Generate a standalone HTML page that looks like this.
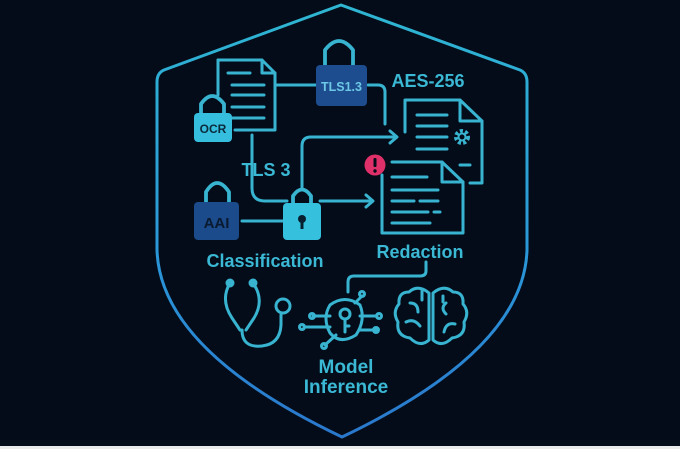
<!DOCTYPE html>
<html><head><style>
html,body{margin:0;padding:0;background:#040c1a;}
svg{display:block}
text{font-family:"Liberation Sans",sans-serif;font-weight:bold;}
</style></head><body>
<svg width="680" height="449" viewBox="0 0 680 449" xmlns="http://www.w3.org/2000/svg">
<defs>
<linearGradient id="sg" x1="0" y1="0" x2="0" y2="1">
<stop offset="0" stop-color="#2fb6d2"/><stop offset="0.6" stop-color="#2a96d8"/><stop offset="1" stop-color="#2a78cc"/>
</linearGradient>
</defs>
<rect width="680" height="446" fill="#040c1a"/>
<rect y="446" width="680" height="3" fill="#e8eaec"/>
<path d="M341 5 L164 70 Q157 73 157 82 L157 250 Q160 350 342 437 Q524 350 527 250 L527 82 Q527 73 520 70 Z" fill="none" stroke="url(#sg)" stroke-width="3" stroke-linejoin="round"/>
<g fill="none" stroke="#38b4d0" stroke-width="3" stroke-linecap="round" stroke-linejoin="round">
<path d="M218 60 L262 60 L275 73 L275 130 L235 130"/><path d="M262 60 L262 73 L275 73"/><path d="M218 60 L218 95"/>
<path d="M228 73h22 M232 85h32 M232 95h32 M232 107h32 M232 118h32"/>
<path d="M275 85 H316"/>
<path d="M368 85 H378 Q385 85 385 92 V124"/>
<path d="M252 135 V188 Q252 201 265 201 H287"/>
<path d="M242 221 H283"/>
<path d="M302 188 V146 Q302 137 311 137 H396"/><path d="M390 131 L397 137 L390 143"/>
<path d="M320 201 H372"/><path d="M366 195 L373 201 L366 207"/>
<path d="M405 132 V100 H460 L482 121 V183 H470"/><path d="M460 100 V121 H482"/>
<path d="M417 115h30 M417 126h30 M417 137h30 M417 149h30 M460 165h10"/>
<path d="M392 162 H442 L463 182 V233 H382 V175"/><path d="M442 162 V182 H463"/>
<path d="M392 177h35 M392 190h46 M392 201h22 M420 201h18 M392 212h36 M434 212h6 M392 223h38"/>
</g>
<g fill="none" stroke="#38b4d0" stroke-width="3.8" stroke-linecap="round" stroke-linejoin="round">
<path d="M325 65 V50 Q339 32 353 50 V65"/>
<path d="M201 113 V104 Q212 88 224 104 V113"/>
<path d="M206 202 V192 Q217 174 229 192 V202"/>
<path d="M293 203 V196 Q302 183 311 196 V203"/>
</g>
<g fill="none" stroke="#38b4d0" stroke-width="3" stroke-linecap="round" stroke-linejoin="round">
<path d="M426 262 V271 Q426 276 420 276 H354 Q348 276 348 282 V292"/>
<circle cx="230" cy="283" r="3" fill="#38b4d0"/><circle cx="253" cy="283" r="3" fill="#38b4d0"/>
<path d="M230 283 Q220 300 232 318 L240 330 M253 283 Q265 300 254 318 L246 330"/>
<path d="M242 330 Q242 348 262 346 Q280 344 281 325 V315"/>
<circle cx="283" cy="306" r="7"/>
<path d="M330 305 Q345 294 360 305 Q366 320 356 335 Q340 345 330 333 Q322 318 330 305Z"/>
<circle cx="345" cy="314" r="5"/><path d="M345 319 V332 M345 326 H349"/>
<path d="M313 316 H330 M304 327 H330 M360 316 H377 M360 330 H377 M355 303 L362 296 M336 335 L325 345"/>
<circle cx="312" cy="316" r="2.5"/><circle cx="302" cy="327" r="2.5"/><circle cx="379" cy="316" r="2.5"/><circle cx="376" cy="330" r="2.5"/><circle cx="362" cy="294" r="2.5"/><circle cx="324" cy="346" r="2.5"/>
<path d="M429 293 Q418 284 409 292 Q398 292 399 304 Q392 312 398 322 Q396 336 410 338 Q420 348 429 340 Z"/>
<path d="M433 293 Q444 284 453 292 Q464 292 463 304 Q470 312 464 322 Q466 336 452 338 Q442 348 433 340 Z"/>
<path d="M410 303 Q418 303 418 312 M406 322 Q414 318 420 326 M422 300 V290 M446 303 Q440 308 446 314 M455 324 Q446 322 444 332 M443 296 V302"/>
</g>
<rect x="316" y="65" width="51" height="41" rx="4" fill="#1d4d8e"/>
<text x="341.5" y="91" font-size="12.5" fill="#6cc8e6" text-anchor="middle" font-weight="normal">TLS1.3</text>
<rect x="194" y="113" width="38" height="29" rx="4" fill="#35bedd"/>
<text x="213" y="133" font-size="12" fill="#0b2a3c" text-anchor="middle">OCR</text>
<rect x="194" y="202" width="45" height="38" rx="4" fill="#1b4b8a"/>
<text x="216.5" y="228" font-size="15" fill="#0a1a30" text-anchor="middle">AAI</text>
<rect x="283" y="203" width="38" height="37" rx="4" fill="#35c0de"/>
<circle cx="302" cy="219" r="4" fill="#062030"/><rect x="300.5" y="220" width="3" height="9" fill="#062030"/>
<circle cx="462" cy="137" r="6" fill="none" stroke="#38b4d0" stroke-width="4" stroke-dasharray="3 2.2"/>
<circle cx="462" cy="137" r="3.5" fill="none" stroke="#38b4d0" stroke-width="2"/>
<circle cx="375" cy="165" r="10.5" fill="#e0306a"/>
<rect x="373.5" y="158" width="3" height="9" rx="1" fill="#040c1a"/><circle cx="375" cy="171" r="1.7" fill="#040c1a"/>
<g fill="#3ab8d4">
<text x="428" y="87" font-size="18" text-anchor="middle">AES-256</text>
<text x="266" y="176" font-size="18" text-anchor="middle">TLS 3</text>
<text x="265" y="267" font-size="18" text-anchor="middle">Classification</text>
<text x="420" y="258" font-size="18" text-anchor="middle">Redaction</text>
<text x="346" y="373" font-size="19" text-anchor="middle">Model</text>
<text x="346" y="393" font-size="19" text-anchor="middle">Inference</text>
</g>
</svg>
</body></html>
